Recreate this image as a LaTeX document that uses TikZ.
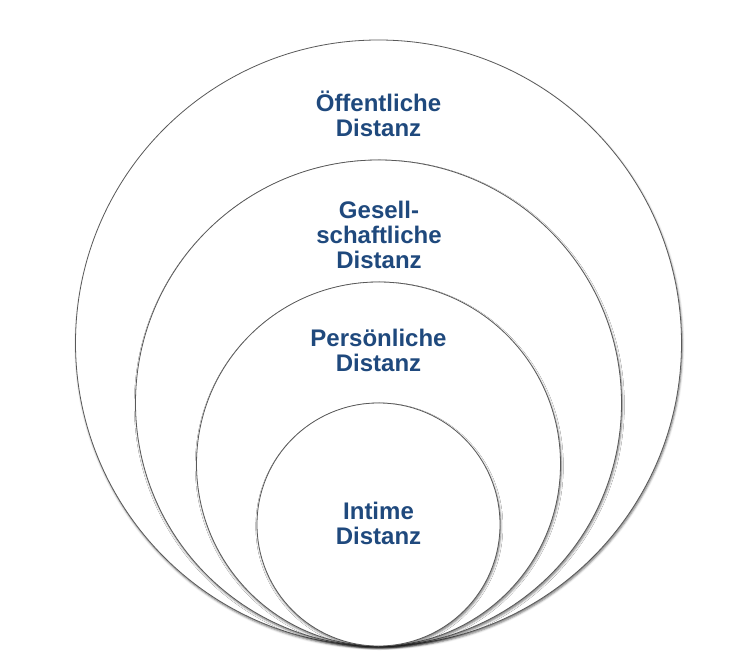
\documentclass[tikz,border=0pt]{standalone}
\usepackage{fontspec}
\setmainfont{Liberation Sans}
\usepackage{tikz}
\usetikzlibrary{shadows.blur}
\definecolor{distblue}{HTML}{1F497D}

\begin{document}
\begin{tikzpicture}[x=0.75pt, y=-0.75pt,
        ring/.style={shape=circle, draw=black!65, line width=0.6pt, fill=white, inner sep=0pt,
            blur shadow={shadow xshift=0.6pt, shadow yshift=-1.4pt, shadow blur radius=1.6pt, shadow opacity=55}},
        zone/.style={align=center, text=distblue, anchor=base, inner sep=0pt,
            font=\bfseries\fontsize{18}{18.75}\selectfont}]
        \useasboundingbox (0,0) rectangle (753,667);
        \node[ring, minimum size=454.5pt] (C1) at (378.5,343) {};
        \node[ring, minimum size=364.5pt] (C2) at (378.5,403) {};
        \node[ring, minimum size=273pt] (C3) at (378.5,464) {};
        \node[ring, minimum size=182.25pt] (C4) at (378.5,524.5) {};

        \node[zone] (T1) at (378.5,137) {Öffentliche\\Distanz};
        \node[zone] (T2) at (379,268) {Gesell-\\schaftliche\\Distanz};
        \node[zone] (T3) at (378.5,371) {Persönliche\\Distanz};
        \node[zone] (T4) at (378.5,544) {Intime\\Distanz};
    \end{tikzpicture}
\end{document}
